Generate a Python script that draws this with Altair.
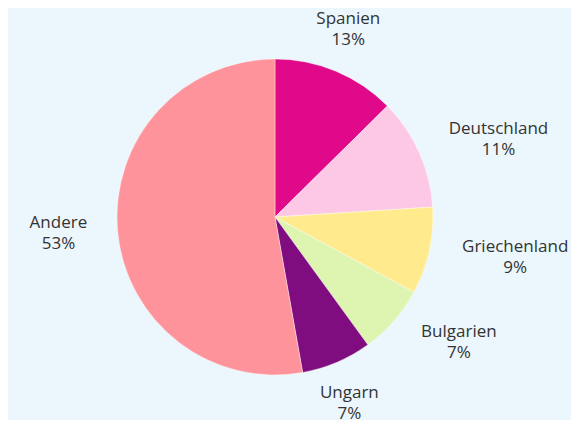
import altair as alt
import pandas as pd

countries = ["Spanien", "Deutschland", "Griechenland", "Bulgarien", "Ungarn", "Andere"]
shares = [12.6, 11.4, 8.9, 7.1, 7.2, 52.8]
labels = ["13%", "11%", "9%", "7%", "7%", "53%"]
colors = ["#E0098A", "#FDC8E5", "#FFEB8D", "#DDF5B0", "#800D80", "#FF939B"]

df = pd.DataFrame({
    "land": countries,
    "anteil": shares,
    "label": [f"{c}\n{l}" for c, l in zip(countries, labels)],
    "ord": list(range(len(countries))),
})

CX, CY = 267, 209
R = 158
D = 190        # distance from centre to the label anchor
CHARW = 9.1    # approx. glyph width at the label font size
HH = 12        # vertical half-extent of a label block (top/bottom labels)
LH = 21        # line height

theta_scale = alt.Scale(domain=[0, 100], range=[0, 6.283185307179586])

pie = alt.Chart(df).transform_window(
    ende="sum(anteil)", sort=[alt.SortField("ord")], frame=[None, 0]
).transform_calculate(
    start="datum.ende - datum.anteil",
)

arcs = pie.mark_arc(radius=R, stroke="#ffffff", strokeWidth=0.4).encode(
    theta=alt.Theta("start:Q", scale=theta_scale),
    theta2="ende:Q",
    color=alt.Color("land:N", scale=alt.Scale(domain=countries, range=colors), legend=None),
    x=alt.value(CX),
    y=alt.value(CY),
)

texts = pie.transform_calculate(
    ang="(datum.ende - datum.anteil / 2) / 100 * 2 * PI",
).transform_calculate(
    vert="abs(cos(datum.ang)) > 0.8",
    hw=f"length(datum.land) * {CHARW} / 2",
).transform_calculate(
    px=f"{CX} + {D} * sin(datum.ang) + (datum.vert ? 0 : (sin(datum.ang) > 0 ? 1 : -1) * datum.hw)",
    py=f"{CY} - {D} * cos(datum.ang) + (datum.vert ? (cos(datum.ang) > 0 ? -1 : 1) * {HH} : 0)",
).mark_text(
    align="center", baseline="middle", lineBreak="\n", dy=-LH / 2,
    font="Open Sans", fontSize=17, color="#333333", lineHeight=LH
).encode(
    x=alt.X("px:Q", scale=None),
    y=alt.Y("py:Q", scale=None),
    text="label:N",
)

chart = alt.layer(arcs, texts).properties(
    width=563, height=412, padding=0,
    autosize=alt.AutoSizeParams(type="fit", contains="padding"),
    background="#EBF7FC",
).configure_view(stroke=None)

chart.save("out.html", embed_options={"renderer": "svg", "actions": False})
